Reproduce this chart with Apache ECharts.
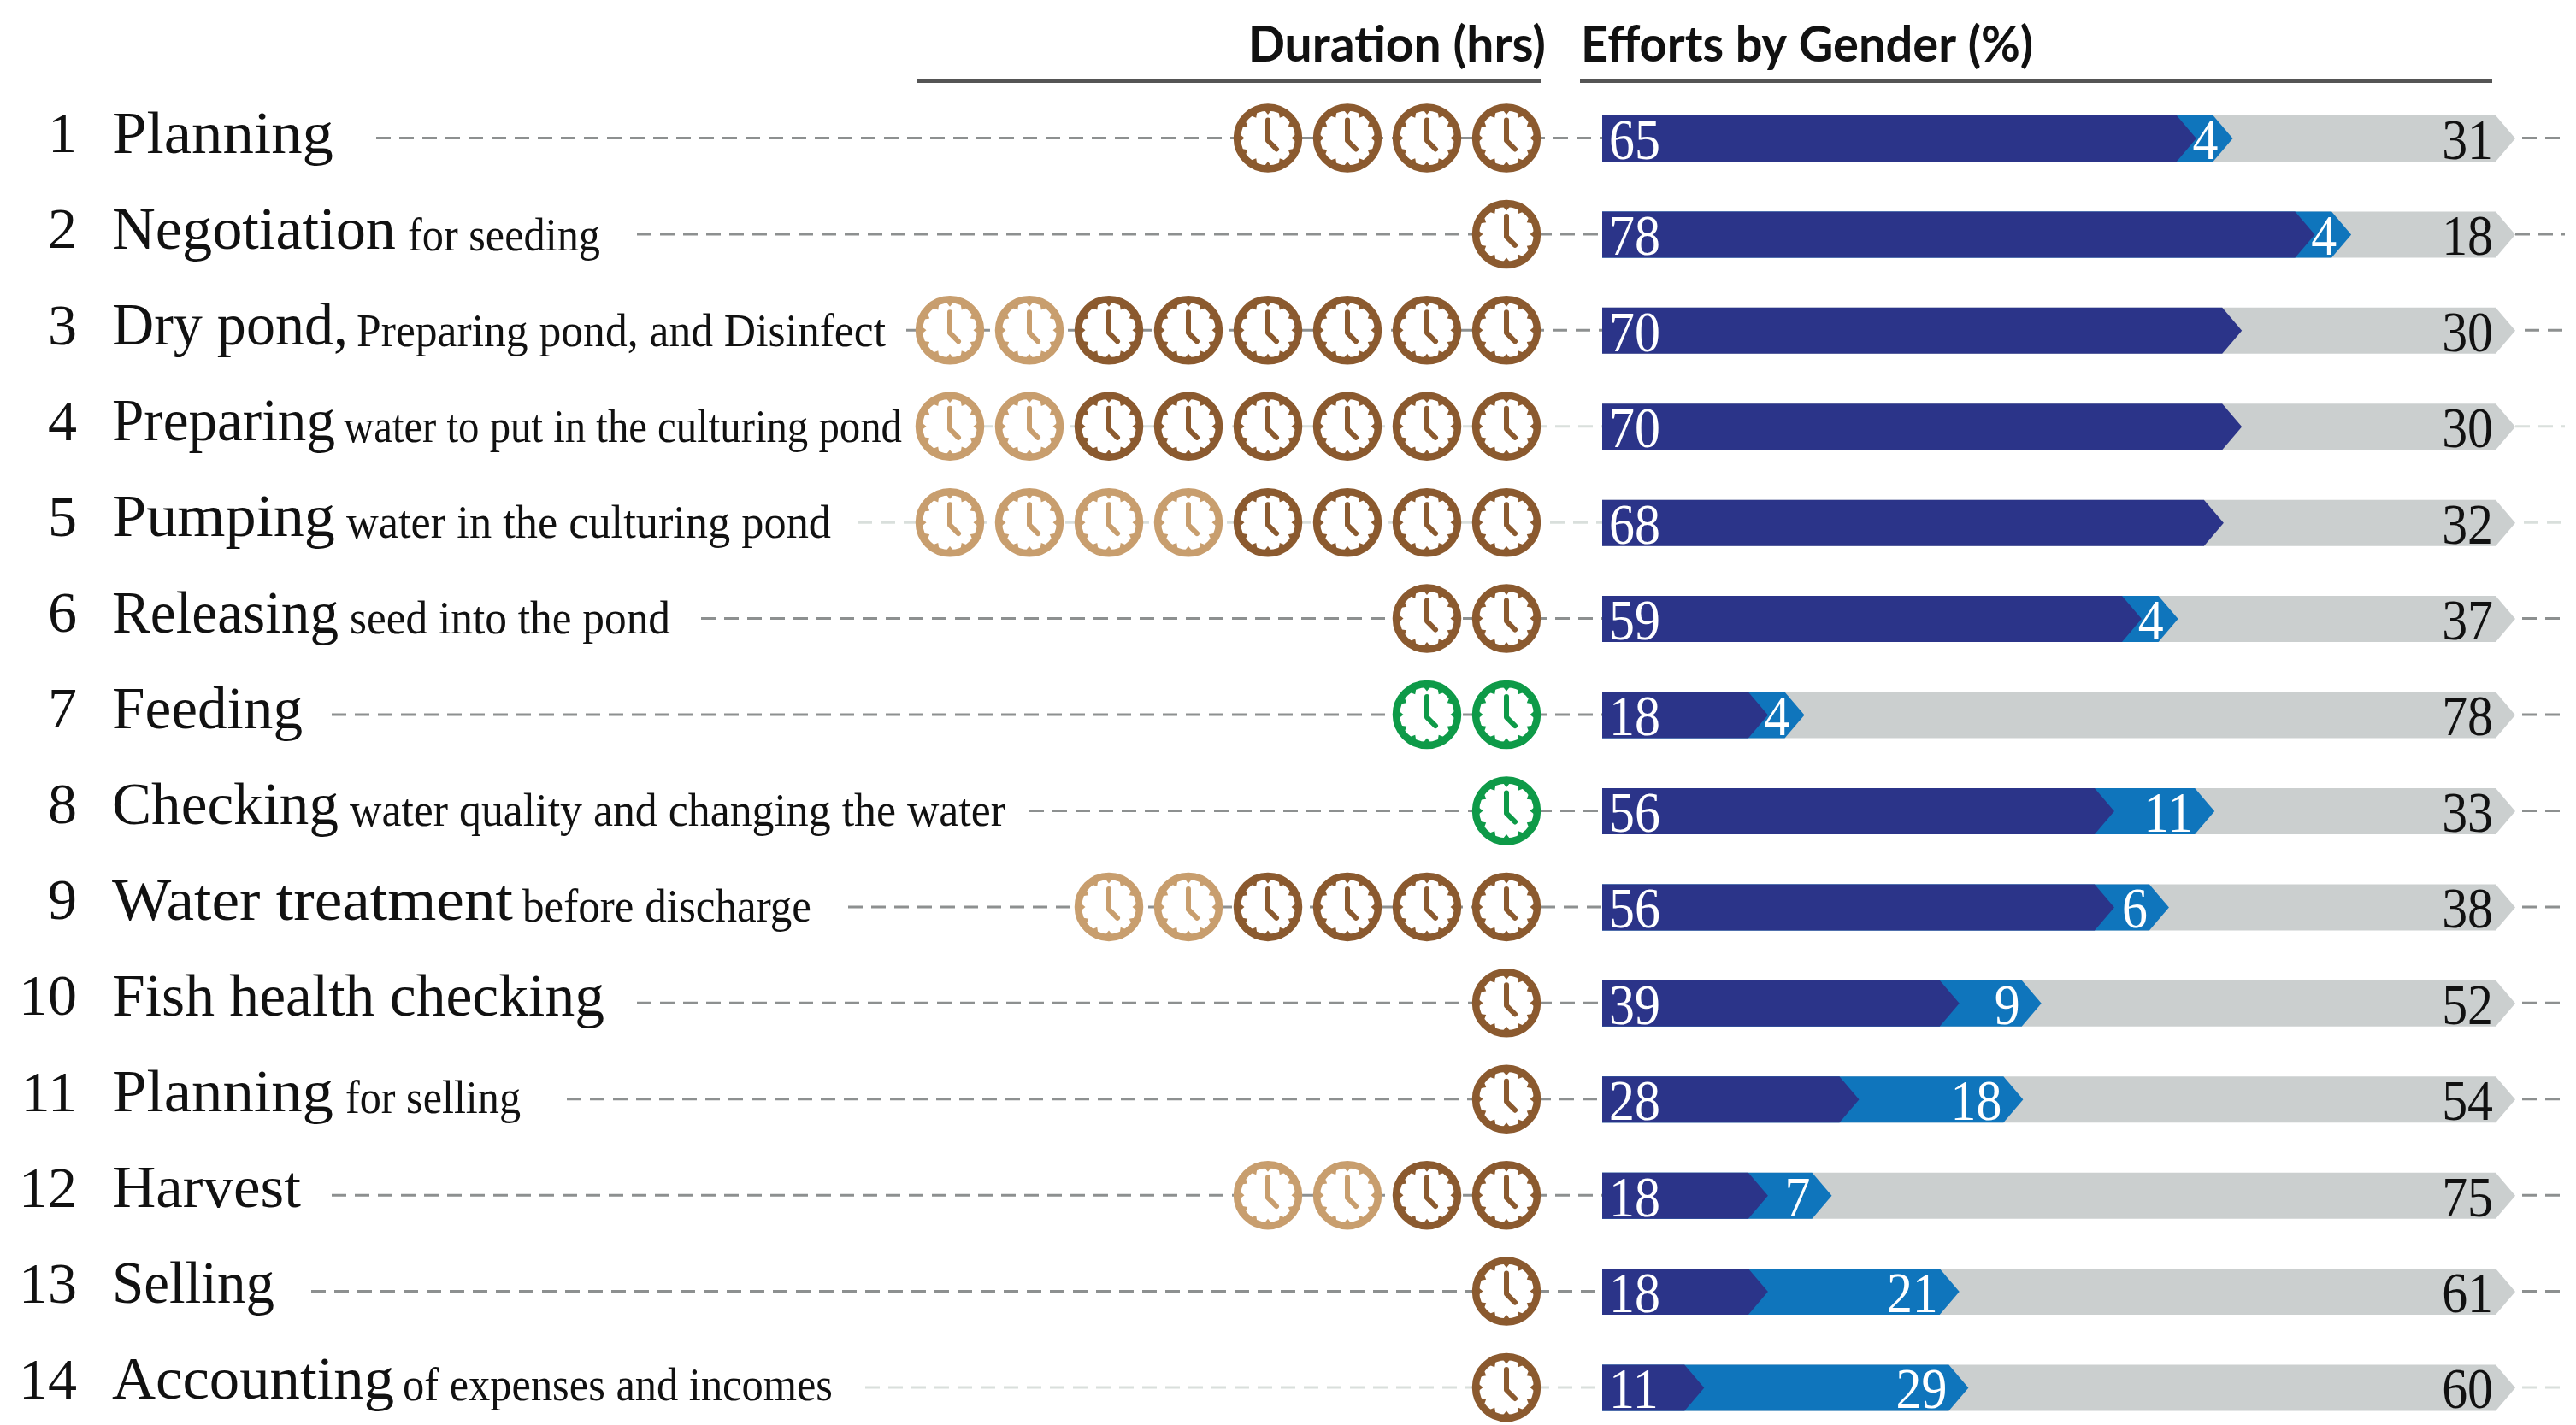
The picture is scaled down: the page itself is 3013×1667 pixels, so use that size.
<!DOCTYPE html>
<html><head><meta charset="utf-8">
<style>html,body{margin:0;padding:0;background:#fff}#c{width:3013px;height:1667px}</style>
<script src="https://cdn.jsdelivr.net/npm/echarts@6/dist/echarts.min.js"></script></head>
<body><div id="c"></div>
<script>
const rowNumbers=['1','2','3','4','5','6','7','8','9','10','11','12','13','14'];
const mainLabels=['Planning','Negotiation','Dry pond,','Preparing','Pumping','Releasing','Feeding','Checking','Water treatment','Fish health checking','Planning','Harvest','Selling','Accounting'];
const subLabels=['','for seeding','Preparing pond, and Disinfect','water to put in the culturing pond','water in the culturing pond','seed into the pond','','water quality and changing the water','before discharge','','for selling','','','of expenses and incomes'];
const lightClocks=[0,0,2,2,4,0,0,0,2,0,0,2,0,0];
const darkClocks=[4,1,6,6,4,2,0,0,4,1,1,2,1,1];
const greenClocks=[0,0,0,0,0,0,2,1,0,0,0,0,0,0];
const effortA=[65,78,70,70,68,59,18,56,56,39,28,18,18,11];
const effortB=[4,4,0,0,0,4,4,11,6,9,18,7,21,29];
const effortC=[31,18,30,30,32,37,78,33,38,52,54,75,61,60];

// layout tables (pixels), separate from the chart's values
const mainEndX=[390,463,407,392,392,396,354,396,600,707,390,352,321,461];
const subStartX=[0,477,417,402,405,409,0,409,611,0,404,0,0,471];
const subEndX=[0,702,1036,1055,972,784,0,1176,949,0,609,0,0,974];
const leaderStart=[440,745,1060,1090,1003,820,388,1204,992,745,663,388,364,1012];
const rightLeaderStart=[2950,2942,2953,2942,2952,2950,2950,2950,2950,2950,2950,2950,2950,2950];
const lightLeaderRows=[3,4,13];

const COL={dark:'#2b3489',blue:'#0f75bc',gray:'#cbcfcf',brown:'#8b5a2f',tan:'#c89e6e',green:'#0e9a48',dash:'#8d9090',dashLight:'#d9dfdc'};
const serif='"Liberation Serif",serif';
const sans='Lato,"Open Sans",sans-serif';
const measureCtx=document.createElement('canvas').getContext('2d');
function fitScale(text,size,target){
  measureCtx.font=size+'px "Liberation Serif"';
  return target/measureCtx.measureText(text).width;
}
const clockItems=[];
rowNumbers.forEach((_,r)=>{
  const total=lightClocks[r]+darkClocks[r]+greenClocks[r];
  for(let i=0;i<total;i++){
    const pos=total-i;
    const c=i<lightClocks[r]?COL.tan:(greenClocks[r]?COL.green:COL.brown);
    clockItems.push([pos,r,c]);
  }
});
function clockShape(cx,cy,color){
  const ch=[
    {type:'circle',shape:{cx,cy,r:36},style:{fill:'#fff',stroke:color,lineWidth:8.5}}
  ];
  for(let a=0;a<12;a++){
    const t=a*Math.PI/6, s=Math.sin(t), k=Math.cos(t);
    const wx=k*4.5, wy=s*4.5;
    ch.push({type:'polygon',shape:{points:[
      [cx+s*33-wx,cy-k*33-wy],[cx+s*27.5,cy-k*27.5],[cx+s*33+wx,cy-k*33+wy]]},style:{fill:color}});
  }
  ch.push({type:'polyline',shape:{points:[[cx,cy-21],[cx,cy+3],[cx+10,cy+13]]},style:{fill:null,stroke:color,lineWidth:6,lineCap:'round',lineJoin:'round'}});
  return {type:'group',children:ch};
}
function chevron(x0,xTip,cy,h,color){
  const tipLen=23, body=Math.max(x0,xTip-tipLen);
  return {type:'polygon',shape:{points:[[x0,cy-h/2],[body,cy-h/2],[xTip,cy],[body,cy+h/2],[x0,cy+h/2]]},style:{fill:color}};
}
function digits(text,x,y,align,color){
  return {type:'text',x,y:y+6,scaleX:0.88,style:{text,fontFamily:serif,fontSize:68,fill:color,align,verticalAlign:'middle'}};
}
const rows=rowNumbers.map((_,i)=>i);
const option={
  animation:false,backgroundColor:'#fff',
  grid:[
    {left:0,width:3013,top:161.5,height:1461.5},
    {left:1064.5,width:744,top:161.5,height:1461.5},
    {left:1876,width:1066,top:161.5,height:1461.5}
  ],
  xAxis:[
    {gridIndex:0,type:'value',min:0,max:3013,show:false},
    {gridIndex:1,type:'value',min:0.5,max:8.5,inverse:true,show:false},
    {gridIndex:2,type:'value',min:0,max:100,show:false}
  ],
  yAxis:[0,1,2].map(g=>({gridIndex:g,type:'category',data:rowNumbers,inverse:true,boundaryGap:false,show:false})),
  graphic:[
    {type:'text',x:1808,y:54,style:{text:'Duration (hrs)',font:'700 57px '+sans,fill:'#111',align:'right',verticalAlign:'middle'}},
    {type:'text',x:1849,y:54,scaleX:0.982,style:{text:'Efforts by Gender (%)',font:'700 57px '+sans,fill:'#111',align:'left',verticalAlign:'middle'}},
    {type:'line',shape:{x1:1072,y1:95,x2:1802,y2:95},style:{stroke:'#555',lineWidth:4}},
    {type:'line',shape:{x1:1848,y1:95,x2:2915,y2:95},style:{stroke:'#555',lineWidth:4}}
  ],
  series:[
    {name:'Leaders',type:'custom',xAxisIndex:0,yAxisIndex:0,clip:false,silent:true,z:1,
     data:rows.map(r=>[leaderStart[r],r,rightLeaderStart[r]]),
     renderItem(p,api){
       const a=api.coord([api.value(0),api.value(1)]);
       const r=api.value(1);
       const stroke=lightLeaderRows.includes(r)?COL.dashLight:COL.dash;
       const st={stroke,lineWidth:3,lineDash:[17,10]};
       return {type:'group',children:[
         {type:'line',shape:{x1:a[0],y1:a[1],x2:1874,y2:a[1]},style:st},
         {type:'line',shape:{x1:api.value(2),y1:a[1],x2:3000,y2:a[1]},style:st}
       ]};
     }},
    {name:'Labels',type:'custom',xAxisIndex:0,yAxisIndex:0,clip:false,silent:true,z:3,
     data:rows.map(r=>[r]),
     renderItem(p,api){
       const r=api.value(0);
       const y=api.coord([0,r])[1]-1-0.3*r;
       const sub=subLabels[r];
       const ch=[
         {type:'text',x:90,y,style:{text:rowNumbers[r],fontFamily:serif,fontSize:68,fill:'#111',align:'right',verticalAlign:'middle'}},
         {type:'text',x:131,y,scaleX:fitScale(mainLabels[r],70,mainEndX[r]-131),
          style:{text:mainLabels[r],fontFamily:serif,fontSize:70,fill:'#111',align:'left',verticalAlign:'middle'}}
       ];
       if(sub) ch.push({type:'text',x:subStartX[r],y:y+6,scaleX:fitScale(sub,54,subEndX[r]-subStartX[r]),
          style:{text:sub,fontFamily:serif,fontSize:54,fill:'#111',align:'left',verticalAlign:'middle'}});
       return {type:'group',children:ch};
     }},
    {name:'Duration',type:'custom',xAxisIndex:1,yAxisIndex:1,clip:false,silent:true,z:4,
     data:clockItems,
     renderItem(p,api){
       const c=api.coord([api.value(0),api.value(1)]);
       return clockShape(c[0],c[1],clockItems[p.dataIndex][2]);
     }},
    {name:'Efforts',type:'custom',xAxisIndex:2,yAxisIndex:2,clip:false,silent:true,z:5,
     data:rows.map(r=>[r,effortA[r],effortB[r],effortC[r]]),
     renderItem(p,api){
       const r=api.value(0),a=api.value(1),b=api.value(2),c=api.value(3);
       const x0=1874,y=api.coord([0,r])[1]+0.5;
       const xa=api.coord([a,r])[0],xb=api.coord([a+b,r])[0],xc=api.coord([a+b+c,r])[0];
       const ch=[chevron(x0,xc,y,54,COL.gray)];
       if(b>0) ch.push(chevron(x0,xb,y,54,COL.blue));
       ch.push(chevron(x0,xa,y,54,COL.dark));
       ch.push(digits(String(a),x0+8,y,'left','#fff'));
       if(b>0) ch.push(digits(String(b),xb-(b<=4?17:25),y,'right','#fff'));
       ch.push(digits(String(c),2916,y,'right','#111'));
       return {type:'group',children:ch};
     }}
  ]
};
const chart=echarts.init(document.getElementById('c'),null,{renderer:'canvas',width:3013,height:1667});
chart.setOption(option);
</script></body></html>
